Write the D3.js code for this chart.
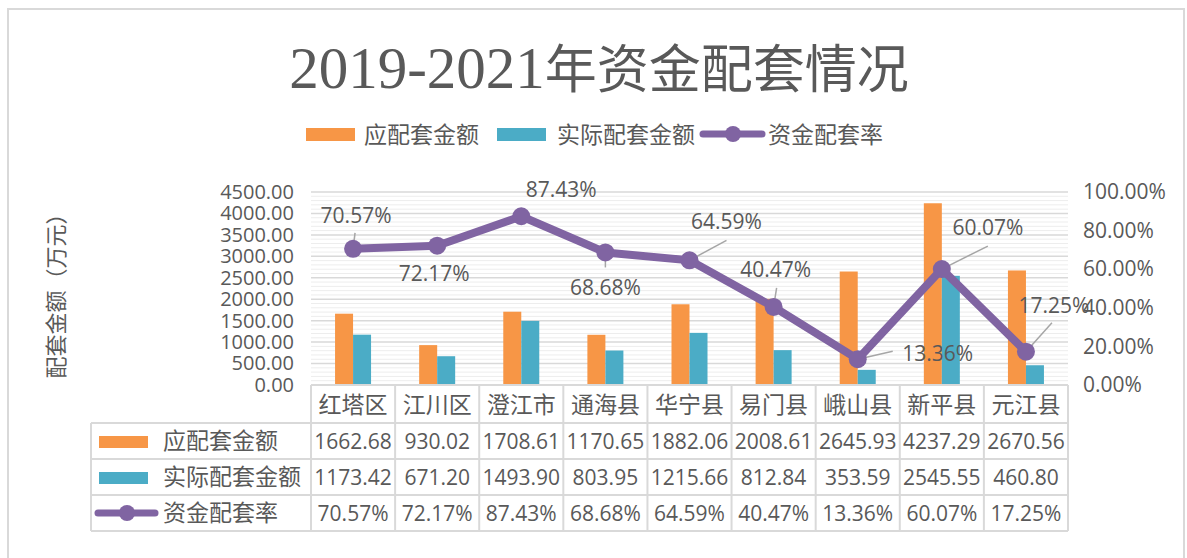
<!DOCTYPE html>
<html>
<head>
<meta charset="utf-8">
<script src="https://cdn.jsdelivr.net/npm/d3@7"></script>
<style>
  body { margin: 0; background: #fff; }
  svg text { fill: #595959; }
</style>
</head>
<body>
<div id="container"></div>
<script>
/* DATA */
const categories = ["红塔区", "江川区", "澄江市", "通海县", "华宁县", "易门县", "峨山县", "新平县", "元江县"];
const planned = [1662.68, 930.02, 1708.61, 1170.65, 1882.06, 2008.61, 2645.93, 4237.29, 2670.56];
const actual = [1173.42, 671.20, 1493.90, 803.95, 1215.66, 812.84, 353.59, 2545.55, 460.80];
const rate = [70.57, 72.17, 87.43, 68.68, 64.59, 40.47, 13.36, 60.07, 17.25];
const leftTicks = [0, 500, 1000, 1500, 2000, 2500, 3000, 3500, 4000, 4500];
const rightTicks = [0, 20, 40, 60, 80, 100];
const seriesNames = ["应配套金额", "实际配套金额", "资金配套率"];

/* CONSTANTS AND GLOBALS */
const width = 1187, height = 558;
const plot = { left: 311, right: 1068, top: 192, bottom: 385 };
const colors = { planned: "#F79646", actual: "#4BACC6", rate: "#8064A2" };
const latin = "'Open Sans', 'Noto Sans', sans-serif";
const cjk = "'Noto Sans CJK SC', sans-serif";

// where Excel parked each rate label: label centre and leader end, relative to the point
const labelPos = [
  { dx: 3, dy: -34, lx: 2, ly: -16 },
  { dx: -3, dy: 27 },
  { dx: 40, dy: -27 },
  { dx: 0, dy: 35, lx: 0, ly: 15 },
  { dx: 37, dy: -39, lx: 37, ly: -20 },
  { dx: 2, dy: -38, lx: 3, ly: -19 },
  { dx: 80, dy: -6, lx: 35, ly: -8 },
  { dx: 46, dy: -42, lx: 46, ly: -23 },
  { dx: 28, dy: -47, lx: 26, ly: -29 }
];

const svg = d3.select("#container")
  .append("svg")
  .attr("width", width)
  .attr("height", height);

// outer chart frame
svg.append("rect")
  .attr("x", 8).attr("y", 9)
  .attr("width", 1176).attr("height", 570)
  .attr("fill", "none")
  .attr("stroke", "#d9d9d9")
  .attr("stroke-width", 2);

/* SCALES */
const x = d3.scaleBand()
  .domain(categories)
  .range([plot.left, plot.right]);

const xSeries = d3.scaleBand()
  .domain(["planned", "actual"])
  .range([-18, 18]);

const yLeft = d3.scaleLinear()
  .domain([0, 4500])
  .range([plot.bottom, plot.top]);

const yRight = d3.scaleLinear()
  .domain([0, 100])
  .range([plot.bottom, plot.top]);

/* TITLE */
const title = svg.append("text")
  .attr("x", 599)
  .attr("y", 88)
  .attr("text-anchor", "middle")
  .attr("fill", "#595959");
title.append("tspan")
  .attr("font-family", "'Liberation Serif', serif")
  .attr("font-size", 59)
  .text("2019-2021");
title.append("tspan")
  .attr("font-family", cjk)
  .attr("font-size", 52)
  .text("年资金配套情况");

/* LEGEND */
const legend = svg.append("g");
[[306, 364, colors.planned, 0], [497, 557, colors.actual, 1]].forEach(([kx, tx, c, i]) => {
  legend.append("rect")
    .attr("x", kx).attr("y", 128)
    .attr("width", 49).attr("height", 13)
    .attr("fill", c);
  legend.append("text")
    .attr("x", tx).attr("y", 143)
    .attr("font-family", cjk)
    .attr("font-size", 23)
    .text(seriesNames[i]);
});
legend.append("line")
  .attr("x1", 703).attr("x2", 762)
  .attr("y1", 134).attr("y2", 134)
  .attr("stroke", colors.rate)
  .attr("stroke-width", 7)
  .attr("stroke-linecap", "round");
legend.append("circle")
  .attr("cx", 733).attr("cy", 134).attr("r", 8)
  .attr("fill", colors.rate);
legend.append("text")
  .attr("x", 768).attr("y", 143)
  .attr("font-family", cjk)
  .attr("font-size", 23)
  .text(seriesNames[2]);

/* GRIDLINES */
svg.append("g")
  .selectAll("line")
  .data(d3.range(0, 4501, 100).filter(v => v % 500 !== 0))
  .join("line")
  .attr("x1", plot.left).attr("x2", plot.right)
  .attr("y1", d => yLeft(d)).attr("y2", d => yLeft(d))
  .attr("stroke", "#ededed")
  .attr("stroke-width", 1);

svg.append("g")
  .selectAll("line")
  .data(leftTicks)
  .join("line")
  .attr("x1", plot.left).attr("x2", plot.right)
  .attr("y1", d => yLeft(d)).attr("y2", d => yLeft(d))
  .attr("stroke", "#d9d9d9")
  .attr("stroke-width", 1.5);

/* AXES */
const axisLeft = svg.append("g")
  .attr("transform", `translate(${plot.left - 17},0)`)
  .call(d3.axisLeft(yLeft).tickValues(leftTicks).tickSize(0).tickPadding(0).tickFormat(d3.format(".2f")));
axisLeft.select(".domain").remove();
axisLeft.selectAll("text")
  .attr("font-family", latin)
  .attr("font-size", 20)
  .attr("fill", "#595959");

const axisRight = svg.append("g")
  .attr("transform", `translate(${plot.right + 15},0)`)
  .call(d3.axisRight(yRight).tickValues(rightTicks).tickSize(0).tickPadding(0).tickFormat(d => d3.format(".2f")(d) + "%"));
axisRight.select(".domain").remove();
axisRight.selectAll("text")
  .attr("font-family", latin)
  .attr("font-size", 21)
  .attr("fill", "#595959");

svg.append("text")
  .attr("transform", `translate(64,${(plot.top + plot.bottom) / 2 + 2}) rotate(-90)`)
  .attr("text-anchor", "middle")
  .attr("font-family", cjk)
  .attr("font-size", 22)
  .text("配套金额（万元）");

/* BARS */
const bars = svg.append("g");
bars.selectAll(".planned")
  .data(planned)
  .join("rect")
  .attr("class", "planned")
  .attr("x", (d, i) => x(categories[i]) + x.bandwidth() / 2 + xSeries("planned"))
  .attr("y", d => yLeft(d))
  .attr("width", xSeries.bandwidth())
  .attr("height", d => plot.bottom - yLeft(d))
  .attr("fill", colors.planned);
bars.selectAll(".actual")
  .data(actual)
  .join("rect")
  .attr("class", "actual")
  .attr("x", (d, i) => x(categories[i]) + x.bandwidth() / 2 + xSeries("actual"))
  .attr("y", d => yLeft(d))
  .attr("width", xSeries.bandwidth())
  .attr("height", d => plot.bottom - yLeft(d))
  .attr("fill", colors.actual);

/* LINE */
const cx = i => x(categories[i]) + x.bandwidth() / 2;
const line = d3.line()
  .x((d, i) => cx(i))
  .y(d => yRight(d));

svg.append("path")
  .datum(rate)
  .attr("d", line)
  .attr("fill", "none")
  .attr("stroke", colors.rate)
  .attr("stroke-width", 8)
  .attr("stroke-linejoin", "round");

// leader lines (only for labels that were dragged away)
const leaders = rate.map((v, i) => ({ v, i, p: labelPos[i] })).filter(d => d.p.lx !== undefined);
svg.append("g")
  .selectAll("line")
  .data(leaders)
  .join("line")
  .attr("x1", d => cx(d.i))
  .attr("y1", d => yRight(d.v))
  .attr("x2", d => cx(d.i) + d.p.lx)
  .attr("y2", d => yRight(d.v) + d.p.ly)
  .attr("stroke", "#a6a6a6")
  .attr("stroke-width", 1.5);

svg.append("g")
  .selectAll("circle")
  .data(rate)
  .join("circle")
  .attr("cx", (d, i) => cx(i))
  .attr("cy", d => yRight(d))
  .attr("r", 9)
  .attr("fill", colors.rate);

svg.append("g")
  .selectAll("text")
  .data(rate)
  .join("text")
  .attr("x", (d, i) => cx(i) + labelPos[i].dx)
  .attr("y", (d, i) => yRight(d) + labelPos[i].dy + 8)
  .attr("text-anchor", "middle")
  .attr("font-family", latin)
  .attr("font-size", 21)
  .attr("fill", "#404040")
  .text(d => d.toFixed(2) + "%");

/* DATA TABLE */
const rowTop = [plot.bottom, 423, 459, 495, 531];
const table = svg.append("g")
  .attr("stroke", "#d9d9d9")
  .attr("stroke-width", 2)
  .attr("fill", "none");

table.append("line")
  .attr("x1", plot.left).attr("x2", plot.right)
  .attr("y1", rowTop[0]).attr("y2", rowTop[0]);
rowTop.slice(1).forEach(y => {
  table.append("line")
    .attr("x1", 91).attr("x2", plot.right)
    .attr("y1", y).attr("y2", y);
});
table.append("line")
  .attr("x1", 91).attr("x2", 91)
  .attr("y1", rowTop[1]).attr("y2", rowTop[4]);
categories.concat([null]).forEach(c => {
  const xx = c === null ? plot.right : x(c);
  table.append("line")
    .attr("x1", xx).attr("x2", xx)
    .attr("y1", rowTop[0]).attr("y2", rowTop[4]);
});

// category labels
svg.append("g")
  .selectAll("text")
  .data(categories)
  .join("text")
  .attr("x", d => x(d) + x.bandwidth() / 2)
  .attr("y", 413)
  .attr("text-anchor", "middle")
  .attr("font-family", cjk)
  .attr("font-size", 23)
  .text(d => d);

// row keys
svg.append("rect")
  .attr("x", 99).attr("y", 436).attr("width", 49).attr("height", 12)
  .attr("fill", colors.planned);
svg.append("rect")
  .attr("x", 99).attr("y", 472).attr("width", 49).attr("height", 12)
  .attr("fill", colors.actual);
svg.append("line")
  .attr("x1", 98).attr("x2", 155)
  .attr("y1", 513).attr("y2", 513)
  .attr("stroke", colors.rate)
  .attr("stroke-width", 7)
  .attr("stroke-linecap", "round");
svg.append("circle")
  .attr("cx", 127).attr("cy", 513).attr("r", 8)
  .attr("fill", colors.rate);

seriesNames.forEach((name, r) => {
  svg.append("text")
    .attr("x", 163)
    .attr("y", rowTop[r + 1] + 26)
    .attr("font-family", cjk)
    .attr("font-size", 23)
    .text(name);
});

const rows = [
  planned.map(d => d.toFixed(2)),
  actual.map(d => d.toFixed(2)),
  rate.map(d => d.toFixed(2) + "%")
];
rows.forEach((vals, r) => {
  svg.append("g")
    .selectAll("text")
    .data(vals)
    .join("text")
    .attr("x", (d, i) => cx(i))
    .attr("y", rowTop[r + 1] + 26)
    .attr("text-anchor", "middle")
    .attr("font-family", latin)
    .attr("font-size", 21)
    .attr("fill", "#404040")
    .text(d => d);
});
</script>
</body>
</html>
